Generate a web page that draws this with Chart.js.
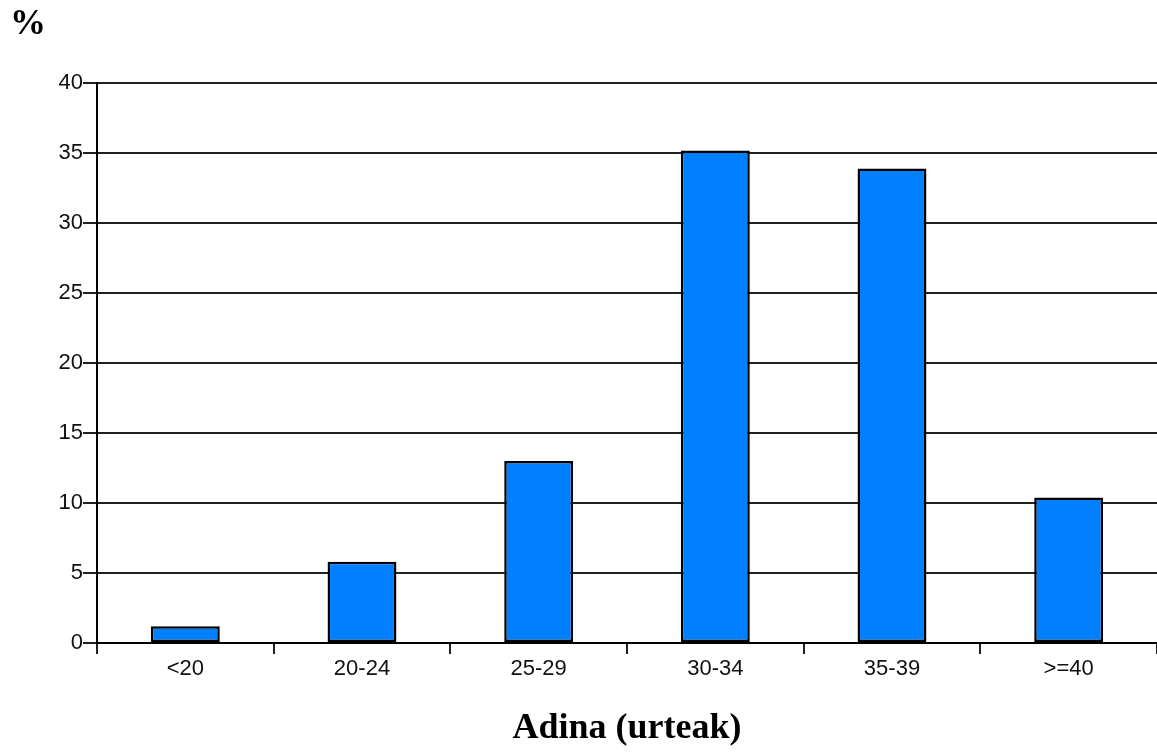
<!DOCTYPE html>
<html>
<head>
<meta charset="utf-8">
<script src="https://cdn.jsdelivr.net/npm/chart.js@4/dist/chart.umd.min.js"></script>
<style>
  html, body { margin: 0; padding: 0; background: #ffffff; }
  #wrap { width: 1157px; height: 753px; }
</style>
</head>
<body>
<div id="wrap"><canvas id="c" width="1157" height="753"></canvas></div>
<script>
// Age groups of the mothers and share of births (%) in each group
const ageGroups = ['<20', '20-24', '25-29', '30-34', '35-39', '>=40'];
const sharePct = [1.2, 5.8, 13.0, 35.2, 33.9, 10.4];
const yTicks = [0, 5, 10, 15, 20, 25, 30, 35, 40];

const lineColor = '#222222';

new Chart(document.getElementById('c'), {
  type: 'bar',
  data: {
    labels: ageGroups,
    datasets: [{
      data: sharePct,
      backgroundColor: '#0080ff',
      borderColor: '#000000',
      borderWidth: 2.5,
      borderSkipped: false,
      categoryPercentage: 1,
      barPercentage: 0.39
    }]
  },
  options: {
    responsive: false,
    animation: false,
    layout: { padding: { left: 10, right: 0, top: 0, bottom: 0 } },
    plugins: {
      legend: { display: false },
      tooltip: { enabled: false },
      title: {
        display: true,
        text: '%',
        align: 'start',
        color: '#000000',
        font: { family: 'Liberation Serif', size: 36, weight: 'bold' },
        padding: { top: 3, bottom: 37 }
      }
    },
    scales: {
      x: {
        offset: true,
        grid: {
          offset: true,
          drawOnChartArea: false,
          drawTicks: true,
          tickLength: 11,
          color: lineColor,
          lineWidth: 2
        },
        border: { display: true, color: '#000000', width: 2 },
        ticks: {
          color: '#111111',
          padding: 2,
          font: { family: 'Liberation Sans', size: 22 }
        },
        title: {
          display: true,
          text: 'Adina (urteak)',
          color: '#000000',
          font: { family: 'Liberation Serif', size: 36, weight: 'bold' },
          padding: { top: 0, bottom: 3 }
        },
        afterFit(scale) { scale.height = 110; }
      },
      y: {
        min: 0,
        max: 40,
        afterBuildTicks(scale) { scale.ticks = yTicks.map(v => ({ value: v })); },
        grid: {
          drawTicks: true,
          tickLength: 14,
          color: lineColor,
          lineWidth: 2
        },
        border: { display: true, color: '#000000', width: 2 },
        ticks: {
          color: '#111111',
          padding: 0,
          font: { family: 'Liberation Sans', size: 22 }
        },
        afterFit(scale) { scale.width = 87; }
      }
    }
  }
});
</script>
</body>
</html>
